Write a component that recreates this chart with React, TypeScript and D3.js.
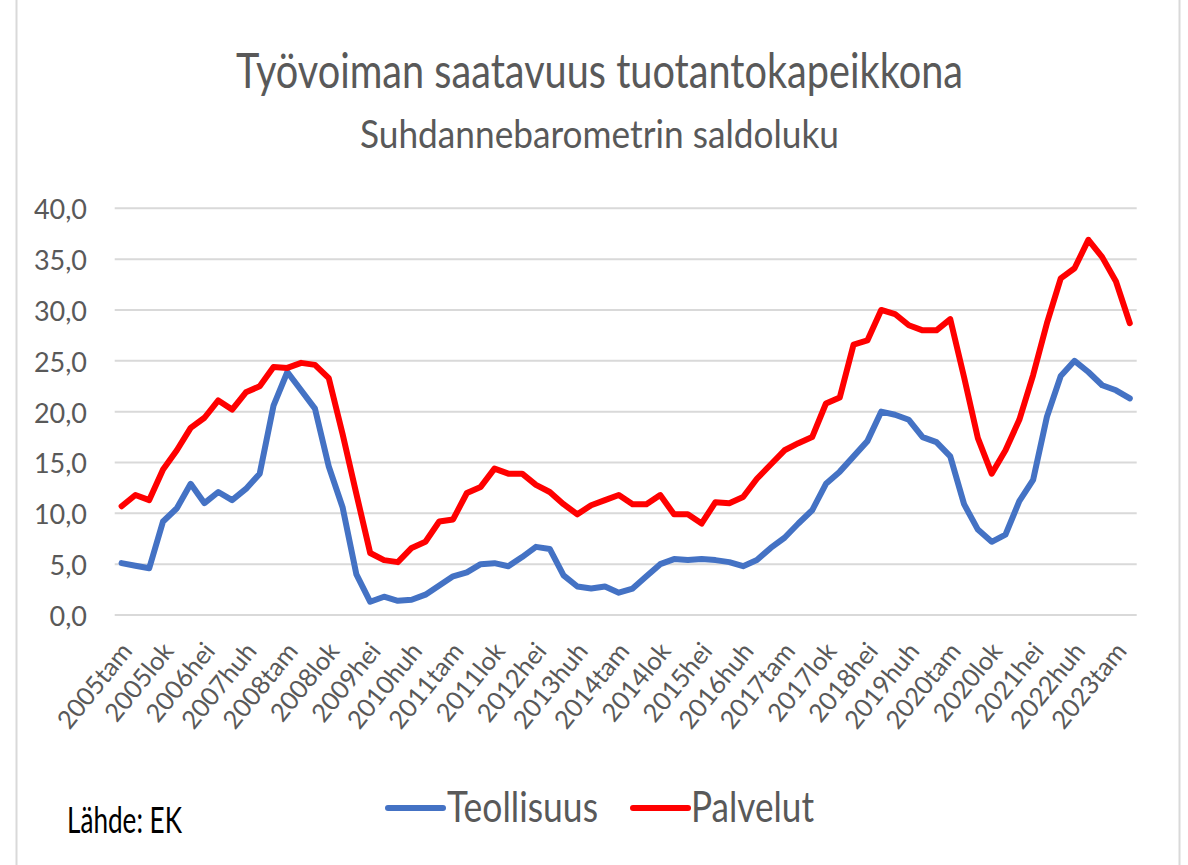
import * as d3 from "d3"

const YEARS = [2005, 2006, 2007, 2008, 2009, 2010, 2011, 2012, 2013, 2014, 2015, 2016, 2017, 2018, 2019, 2020, 2021, 2022, 2023]
const QUARTERS = ["tam", "huh", "hei", "lok"]
// quarterly, 2005tam .. 2023huh
const CATEGORIES = YEARS.flatMap((y) => QUARTERS.map((q) => `${y}${q}`)).slice(0, 74)

const TEOLLISUUS = [
  5.1, 4.85, 4.6, 9.2, 10.5, 12.9, 11.0, 12.1, 11.3, 12.4,
  13.9, 20.6, 23.9, 22.1, 20.3, 14.6, 10.6, 4.0, 1.3, 1.8,
  1.4, 1.5, 2.0, 2.9, 3.8, 4.2, 5.0, 5.1, 4.8, 5.7,
  6.7, 6.5, 3.9, 2.8, 2.6, 2.8, 2.2, 2.6, 3.8, 5.0,
  5.5, 5.4, 5.5, 5.4, 5.2, 4.8, 5.4, 6.6, 7.6, 9.0,
  10.3, 12.9, 14.1, 15.6, 17.1, 20.0, 19.7, 19.2, 17.5, 17.0,
  15.6, 10.9, 8.4, 7.2, 7.9, 11.2, 13.3, 19.5, 23.5, 25.0,
  23.9, 22.6, 22.1, 21.3,
]

const PALVELUT = [
  10.7, 11.8, 11.3, 14.3, 16.2, 18.4, 19.4, 21.1, 20.2, 21.9,
  22.5, 24.4, 24.3, 24.8, 24.6, 23.3, 17.8, 11.9, 6.1, 5.4,
  5.2, 6.6, 7.2, 9.2, 9.4, 12.0, 12.6, 14.4, 13.9, 13.9,
  12.8, 12.1, 10.9, 9.9, 10.8, 11.3, 11.8, 10.9, 10.9, 11.8,
  9.9, 9.9, 9.0, 11.1, 11.0, 11.6, 13.4, 14.8, 16.2, 16.9,
  17.5, 20.8, 21.4, 26.6, 27.0, 30.0, 29.6, 28.5, 28.0, 28.0,
  29.1, 23.4, 17.4, 13.9, 16.2, 19.2, 23.6, 28.7, 33.1, 34.1,
  36.9, 35.2, 32.8, 28.7,
]

const SERIES_NAMES = ["Teollisuus", "Palvelut"]
const Y_TICKS = [0, 5, 10, 15, 20, 25, 30, 35, 40]

const W = 1188
const H = 865
const FONT = "Lato, 'Open Sans', sans-serif"
const GREY = "#595959"
const COLORS = ["#4472C4", "#FF0000"]

export default function App() {
  const x = d3.scaleBand<string>().domain(CATEGORIES).range([114.7, 1136.7])
  const y = d3.scaleLinear().domain([0, 40]).range([615, 208.3])
  const cx = (c: string) => (x(c) ?? 0) + x.bandwidth() / 2
  const fmt = (v: number) => d3.format(".1f")(v).replace(".", ",")

  const line = d3
    .line<number>()
    .x((_, i) => cx(CATEGORIES[i]))
    .y((d) => y(d))

  const series = [TEOLLISUUS, PALVELUT]
  const legend = [
    { lx: 388, tx: 447, len: 151 },
    { lx: 633, tx: 691, len: 123 },
  ]

  return (
    <svg width={W} height={H} style={{ position: "absolute", left: 0, top: 0, fontFamily: FONT }}>
      <rect x={16.5} y={-10} width={1163} height={H + 20} fill="white" stroke="#d9d9d9" strokeWidth={2} />

      <text x={599.5} y={88.3} textAnchor="middle" fontSize={49} fill={GREY} textLength={727} lengthAdjust="spacingAndGlyphs">
        Työvoiman saatavuus tuotantokapeikkona
      </text>
      <text x={599.5} y={148.3} textAnchor="middle" fontSize={39} fill={GREY} textLength={479} lengthAdjust="spacingAndGlyphs">
        Suhdannebarometrin saldoluku
      </text>

      {Y_TICKS.map((t) => (
        <g key={t}>
          <line x1={114.7} x2={1136.7} y1={y(t)} y2={y(t)} stroke="#d9d9d9" strokeWidth={2} />
          <text x={87} y={y(t) + 11} textAnchor="end" fontSize={27} fill={GREY}>
            {fmt(t)}
          </text>
        </g>
      ))}

      {CATEGORIES.map((c, i) =>
        i % 3 === 0 ? (
          <text
            key={c}
            transform={`translate(${cx(c) + 5},${646}) rotate(-51)`}
            textAnchor="end"
            dy="0.35em"
            fontSize={25.5}
            fill={GREY}
          >
            {c}
          </text>
        ) : null
      )}

      {series.map((s, i) => (
        <path
          key={SERIES_NAMES[i]}
          d={line(s) ?? ""}
          fill="none"
          stroke={COLORS[i]}
          strokeWidth={6}
          strokeLinejoin="round"
          strokeLinecap="round"
        />
      ))}

      {SERIES_NAMES.map((name, i) => (
        <g key={name}>
          <line x1={legend[i].lx} x2={legend[i].lx + 55} y1={808} y2={808} stroke={COLORS[i]} strokeWidth={6} strokeLinecap="round" />
          <text x={legend[i].tx} y={821.7} fontSize={42} fill={GREY} textLength={legend[i].len} lengthAdjust="spacingAndGlyphs">
            {name}
          </text>
        </g>
      ))}

      <text x={67} y={832.7} fontSize={36} fill="#000" textLength={115} lengthAdjust="spacingAndGlyphs">
        Lähde: EK
      </text>
    </svg>
  )
}
